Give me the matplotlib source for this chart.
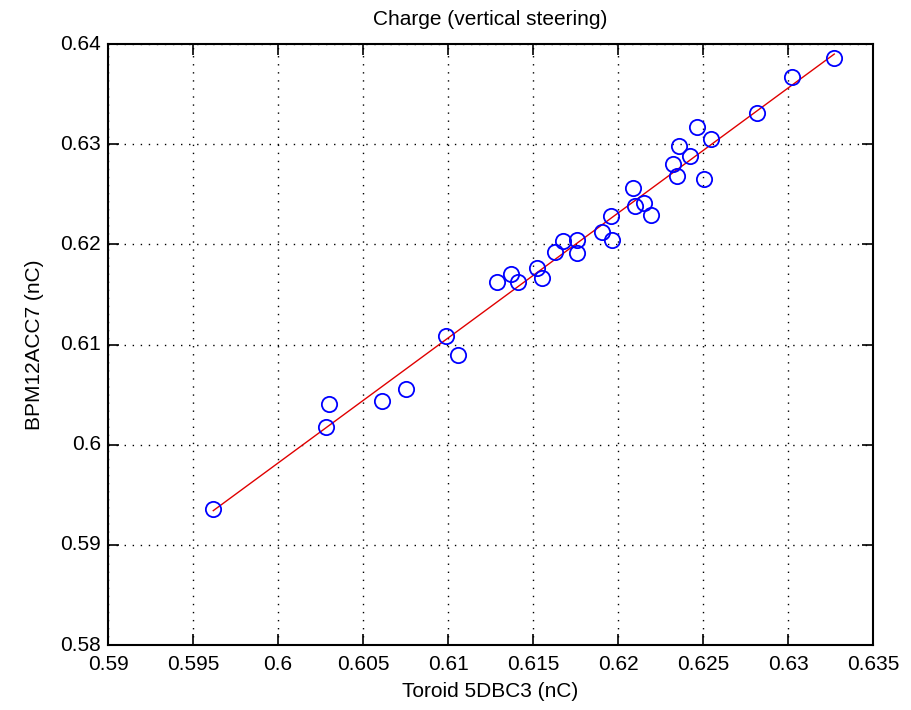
import numpy as np
import matplotlib
matplotlib.use('Agg')
import matplotlib.pyplot as plt

plt.rcParams['font.family'] = ['Liberation Sans', 'DejaVu Sans']

# Toroid vs BPM charge readings (nC)
toroid = [0.59619, 0.60281, 0.60302, 0.60614, 0.60751, 0.60987, 0.61057,
          0.61287, 0.61369, 0.61410, 0.61522, 0.61553, 0.61629, 0.61678,
          0.61761, 0.61761, 0.61906, 0.61963, 0.61957, 0.62090, 0.62100,
          0.62155, 0.62194, 0.62322, 0.62345, 0.62361, 0.62424, 0.62463,
          0.62547, 0.62508, 0.62816, 0.63025, 0.63272]
bpm = [0.59355, 0.60180, 0.60403, 0.60439, 0.60553, 0.61085, 0.60900,
       0.61621, 0.61701, 0.61621, 0.61767, 0.61661, 0.61921, 0.62036,
       0.62043, 0.61917, 0.62120, 0.62043, 0.62283, 0.62559, 0.62386,
       0.62416, 0.62293, 0.62802, 0.62685, 0.62982, 0.62882, 0.63174,
       0.63052, 0.62649, 0.63314, 0.63668, 0.63857]

xticks = [0.59, 0.595, 0.6, 0.605, 0.61, 0.615, 0.62, 0.625, 0.63, 0.635]
xticklabels = ['0.59', '0.595', '0.6', '0.605', '0.61', '0.615', '0.62', '0.625', '0.63', '0.635']
yticks = [0.58, 0.59, 0.6, 0.61, 0.62, 0.63, 0.64]
yticklabels = ['0.58', '0.59', '0.6', '0.61', '0.62', '0.63', '0.64']

x = np.array(toroid)
y = np.array(bpm)

# linear fit across the measured range
p = np.polyfit(x, y, 1)
xfit = np.array([x.min(), x.max()])

fig = plt.figure(figsize=(9.11, 7.10), dpi=100)
ax = fig.add_axes([0.1186, 0.0915, 0.8397, 0.8465])

ax.plot(x, y, 'o', mfc='none', mec='#0000ff', ms=11, mew=1.3, zorder=3)
ax.plot(xfit, np.polyval(p, xfit), '-', color='#e00000', lw=1.0, zorder=2)

ax.set_xlim(0.59, 0.635)
ax.set_ylim(0.58, 0.64)
ax.set_xticks(xticks)
ax.set_xticklabels(xticklabels)
ax.set_yticks(yticks)
ax.set_yticklabels(yticklabels, va='center')
ax.grid(True, color='black', linestyle=(0, (1, 4.8)), linewidth=1.0)
ax.tick_params(direction='in', length=8, width=1.2, top=True, right=True,
               labelsize=15)
ax.tick_params(axis='x', pad=7)
ax.tick_params(axis='y', pad=5)
for s in ax.spines.values():
    s.set_linewidth(1.5)

ax.set_title('Charge (vertical steering)', fontsize=15, pad=14)
ax.set_xlabel('Toroid 5DBC3 (nC)', fontsize=15, labelpad=6)
ax.set_ylabel('BPM12ACC7 (nC)', fontsize=15, labelpad=12)

fig.savefig('out.png', dpi=100)
